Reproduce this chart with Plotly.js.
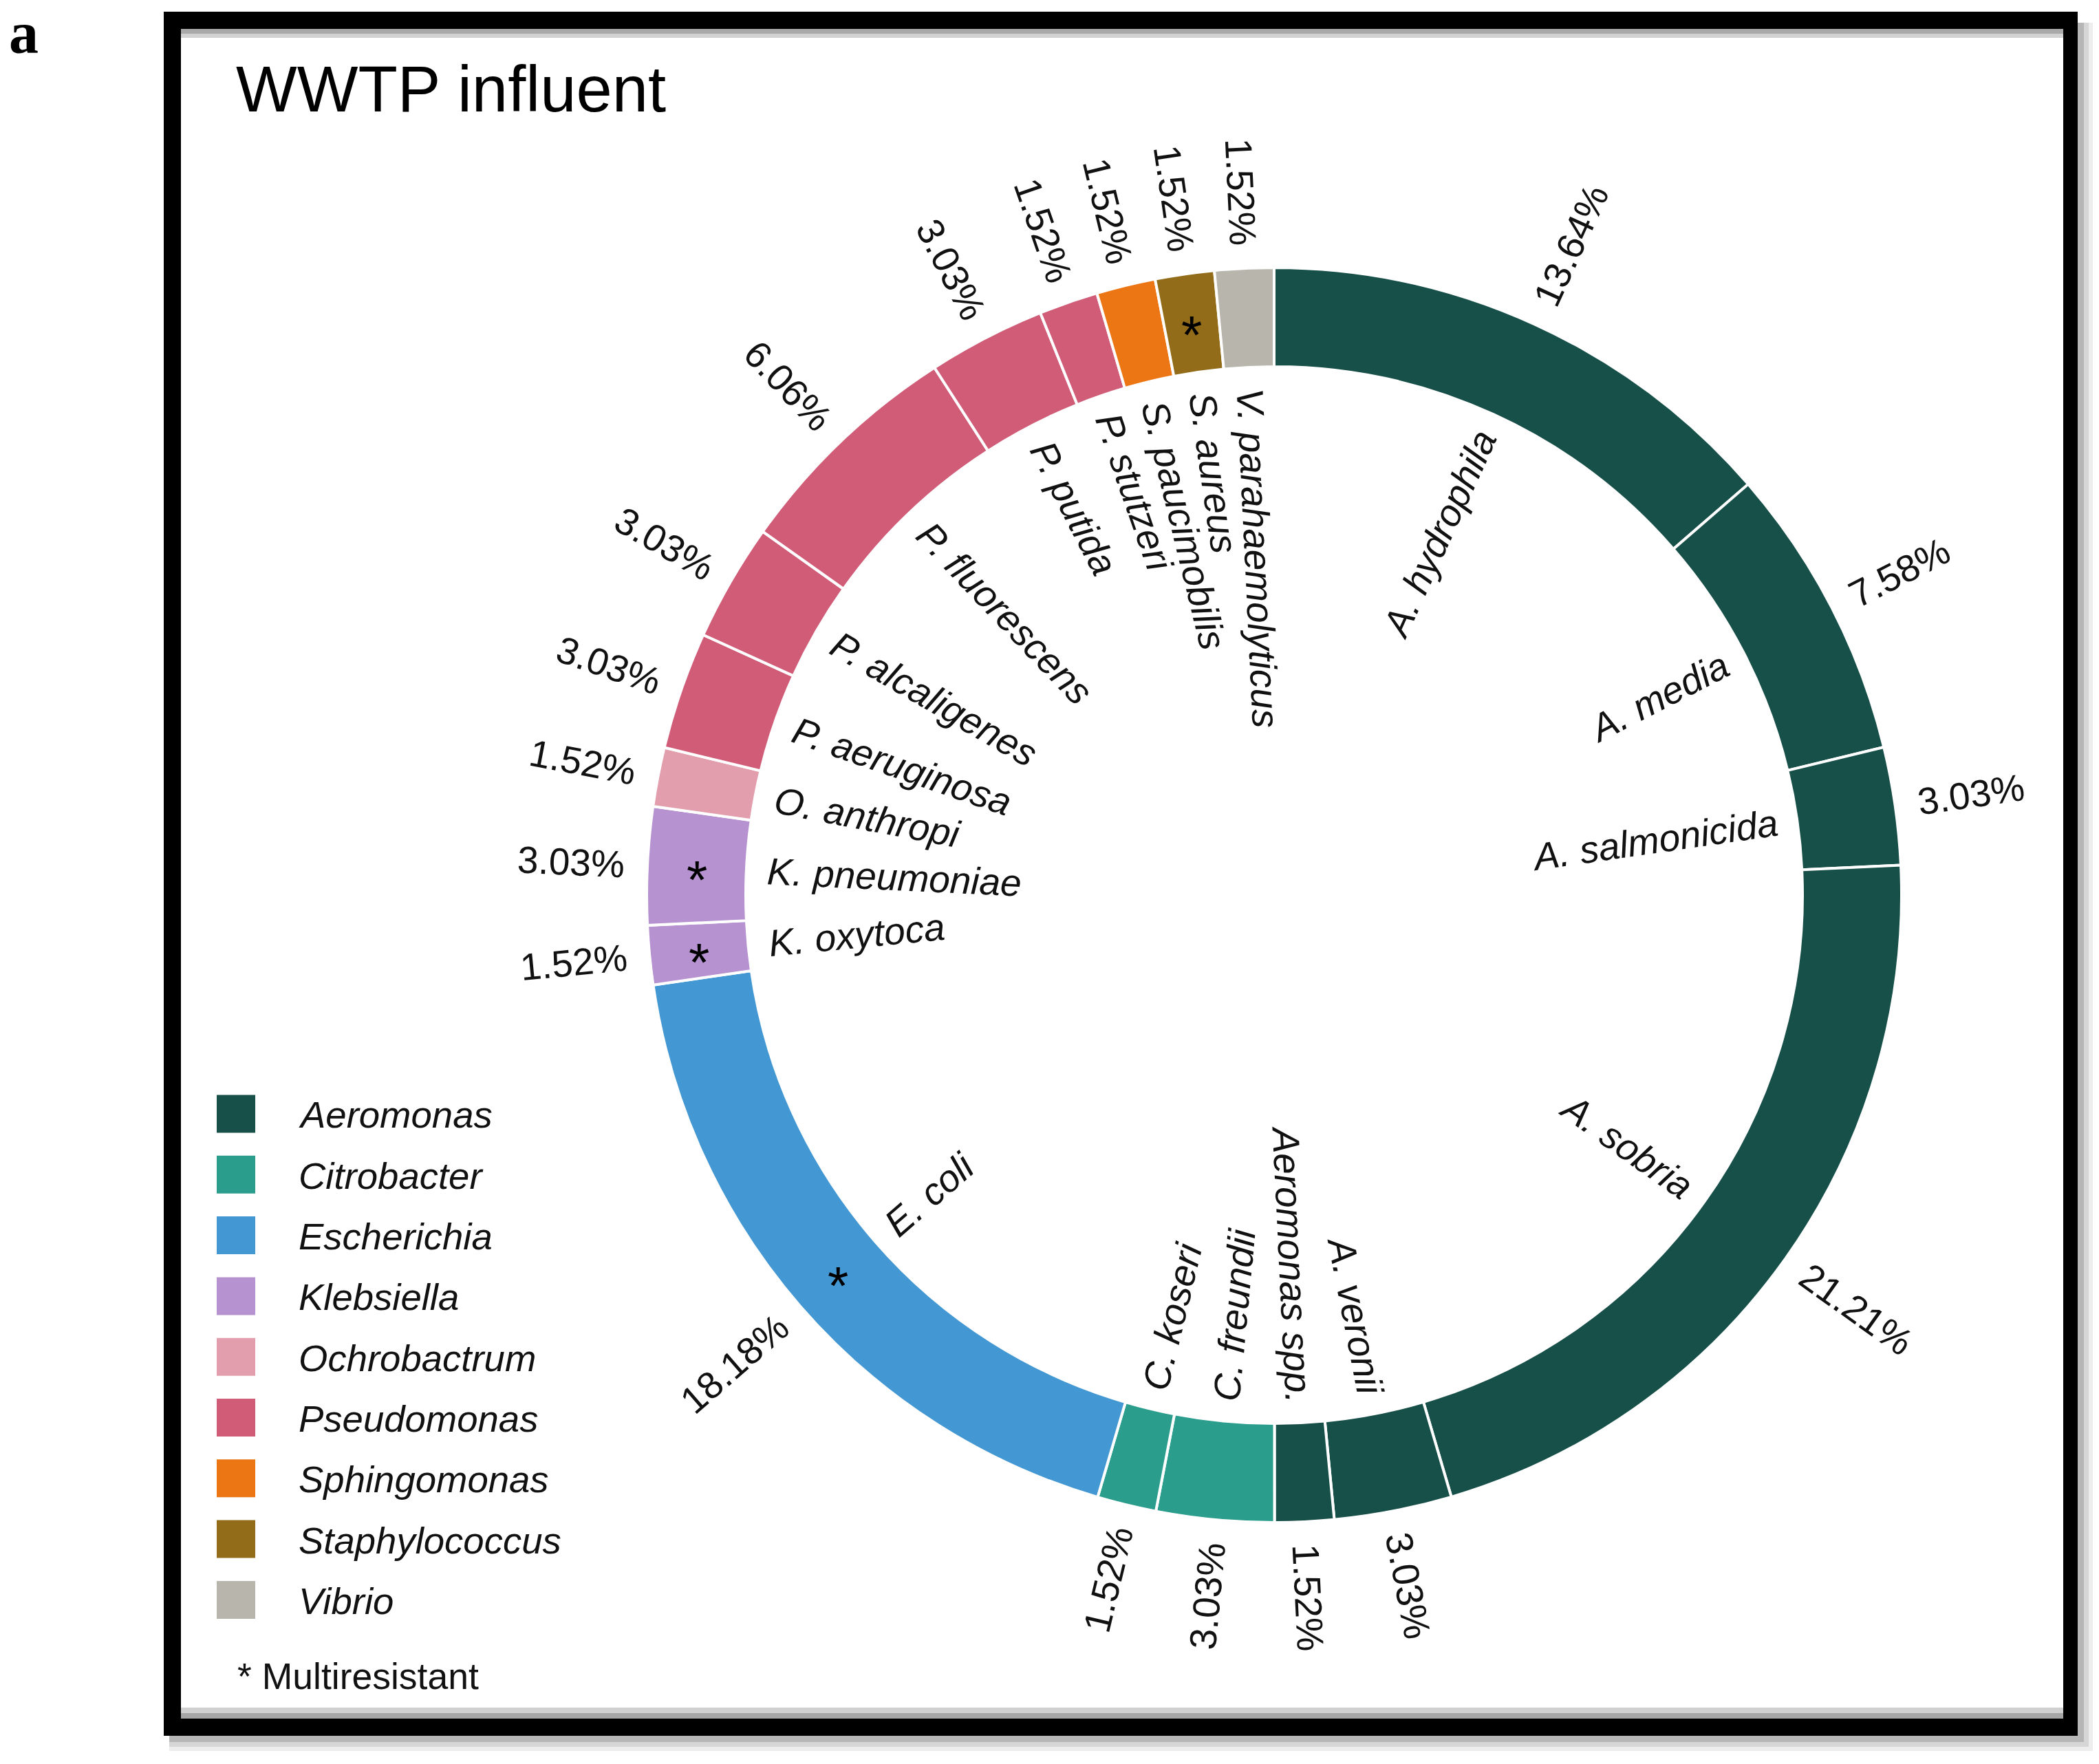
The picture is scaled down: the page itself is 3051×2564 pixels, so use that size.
<!DOCTYPE html>
<html>
<head>
<meta charset="utf-8">
<script src="https://cdn.plot.ly/plotly-3.0.1.min.js"></script>
<style>
html, body { margin: 0; padding: 0; background: #ffffff; }
#chart { width: 3051px; height: 2564px; }
</style>
</head>
<body>
<div id="chart"></div>
<script>
// ---------------- DATA ----------------
const species = ["A. hydrophila", "A. media", "A. salmonicida", "A. sobria", "A. veronii",
  "Aeromonas spp.", "C. freundii", "C. koseri", "E. coli", "K. oxytoca", "K. pneumoniae",
  "O. anthropi", "P. aeruginosa", "P. alcaligenes", "P. fluorescens", "P. putida",
  "P. stutzeri", "S. paucimobilis", "S. aureus", "V. parahaemolyticus"];
const percentages = [13.64, 7.58, 3.03, 21.21, 3.03, 1.52, 3.03, 1.52, 18.18, 1.52, 3.03,
  1.52, 3.03, 3.03, 6.06, 3.03, 1.52, 1.52, 1.52, 1.52];
const speciesGenus = ["Aeromonas", "Aeromonas", "Aeromonas", "Aeromonas", "Aeromonas",
  "Aeromonas", "Citrobacter", "Citrobacter", "Escherichia", "Klebsiella", "Klebsiella",
  "Ochrobactrum", "Pseudomonas", "Pseudomonas", "Pseudomonas", "Pseudomonas",
  "Pseudomonas", "Sphingomonas", "Staphylococcus", "Vibrio"];
const multiresistant = [false, false, false, false, false, false, false, false, true, true, true,
  false, false, false, false, false, false, false, true, false];
const genera = ["Aeromonas", "Citrobacter", "Escherichia", "Klebsiella", "Ochrobactrum",
  "Pseudomonas", "Sphingomonas", "Staphylococcus", "Vibrio"];
const genusColors = ["#174F49", "#2A9D8C", "#4398D3", "#B692D0", "#E29EAC",
  "#D05C78", "#EC7614", "#926C18", "#B8B5AC"];
const chartTitle = "WWTP influent";
const panelLetter = "a";
const footnote = "* Multiresistant";

// ---------------- GEOMETRY ----------------
const W = 3051, H = 2564;
const CX = 1852, CY = 1301, R_OUT = 912, R_IN = 768;
const FONT = "Liberation Sans, Arial, sans-serif";
const LABEL_SIZE = 55;
const px2x = p => p / W;
const py2y = p => 1 - p / H;

const cvs = document.createElement("canvas");
const ctx = cvs.getContext("2d");
function textWidth(t, size, italic) {
  ctx.font = (italic ? "italic " : "") + size + "px 'Liberation Sans'";
  return ctx.measureText(t).width;
}

const colorOf = g => genusColors[genera.indexOf(g)];
const sliceColors = speciesGenus.map(colorOf);

const trace = {
  type: "pie",
  labels: species,
  values: percentages,
  sort: false,
  direction: "clockwise",
  rotation: 0,
  hole: R_IN / R_OUT,
  textinfo: "none",
  hoverinfo: "label+value",
  showlegend: false,
  marker: { colors: sliceColors, line: { color: "#ffffff", width: 4 } },
  domain: { x: [px2x(CX - R_OUT), px2x(CX + R_OUT)], y: [py2y(CY + R_OUT), py2y(CY - R_OUT)] }
};

// ---------------- ANNOTATIONS ----------------
const annotations = [];
const total = percentages.reduce((a, b) => a + b, 0);
let cum = 0;
const NAME_GAP = 30, PCT_GAP = 33;
percentages.forEach((v, i) => {
  const theta = (cum + v / 2) / total * 360;
  cum += v;
  const rad = theta * Math.PI / 180;
  const ux = Math.sin(rad), uy = -Math.cos(rad);
  const leftHalf = theta > 180;
  const angle = leftHalf ? theta - 270 : theta - 90;

  // species name inside the ring
  const wn = textWidth(species[i], LABEL_SIZE, true);
  const rn = R_IN - NAME_GAP - wn / 2;
  annotations.push({
    xref: "paper", yref: "paper", x: px2x(CX + rn * ux), y: py2y(CY + rn * uy),
    xanchor: "center", yanchor: "middle", showarrow: false, textangle: angle,
    text: species[i], font: { family: FONT, size: LABEL_SIZE, color: "#111111", style: "italic" }
  });

  // percentage outside the ring
  const pct = v.toFixed(2) + "%";
  const wp = textWidth(pct, LABEL_SIZE, false);
  const rp = R_OUT + PCT_GAP + wp / 2;
  annotations.push({
    xref: "paper", yref: "paper", x: px2x(CX + rp * ux), y: py2y(CY + rp * uy),
    xanchor: "center", yanchor: "middle", showarrow: false, textangle: angle,
    text: pct, font: { family: FONT, size: LABEL_SIZE, color: "#111111" }
  });

  // multiresistant asterisk
  if (multiresistant[i]) {
    const rm = (R_IN + R_OUT) / 2;
    const AST = 78;
    annotations.push({
      xref: "paper", yref: "paper", x: px2x(CX + rm * ux), y: py2y(CY + rm * uy + 0.22 * AST),
      xanchor: "center", yanchor: "middle", showarrow: false,
      text: "*", font: { family: FONT, size: AST, color: "#000000" }
    });
  }
});

// legend (manual, genus level)
const shapes = [];
const LEG_X0 = 315, LEG_X1 = 371, LEG_Y0 = 1619, LEG_DY = 88.3, SQ = 55;
genera.forEach((g, k) => {
  const cy = LEG_Y0 + k * LEG_DY;
  shapes.push({
    type: "rect", xref: "paper", yref: "paper", layer: "above",
    x0: px2x(LEG_X0), x1: px2x(LEG_X1), y0: py2y(cy + SQ / 2), y1: py2y(cy - SQ / 2),
    fillcolor: genusColors[k], line: { width: 0 }
  });
  annotations.push({
    xref: "paper", yref: "paper", x: px2x(432), y: py2y(cy + 2),
    xanchor: "left", yanchor: "middle", showarrow: false,
    text: g, font: { family: FONT, size: 54.5, color: "#111111", style: "italic" }
  });
});

annotations.push({
  xref: "paper", yref: "paper", x: px2x(343), y: py2y(2436),
  xanchor: "left", yanchor: "middle", showarrow: false,
  text: footnote, font: { family: FONT, size: 53.5, color: "#111111" }
});

annotations.push({
  xref: "paper", yref: "paper", x: px2x(34), y: py2y(48),
  xanchor: "center", yanchor: "middle", showarrow: false,
  text: "<b>" + panelLetter + "</b>", font: { family: "Liberation Serif, Times New Roman, serif", size: 86, color: "#000000" }
});

// ---------------- FRAME ----------------
function rectPx(x0, y0, x1, y1, fill) {
  return { type: "rect", xref: "paper", yref: "paper", layer: "below",
    x0: px2x(x0), x1: px2x(x1), y0: py2y(y1), y1: py2y(y0),
    fillcolor: fill, line: { width: 0 } };
}
const frame = [
  rectPx(246, 33, 3042, 2545, "#ededed"),
  rectPx(246, 33, 3036, 2539, "#d6d6d6"),
  rectPx(246, 33, 3029, 2532, "#b6b6b6"),
  rectPx(238, 17, 3020, 2523, "#000000"),
  rectPx(263, 42, 2999, 2498, "#ffffff"),
  rectPx(263, 42, 2999, 49, "#a9a9a9"),
  rectPx(263, 49, 2999, 55, "#d2d2d2"),
  rectPx(263, 2482, 2999, 2490, "#d0d0d0"),
  rectPx(263, 2490, 2999, 2498, "#a6a6a6")
];

const layout = {
  width: W, height: H,
  margin: { l: 0, r: 0, t: 0, b: 0, pad: 0 },
  paper_bgcolor: "#ffffff",
  showlegend: false,
  title: {
    text: chartTitle, xref: "container", yref: "container",
    x: px2x(343), xanchor: "left", y: py2y(129), yanchor: "middle",
    font: { family: FONT, size: 94, color: "#000000" }
  },
  shapes: frame.concat(shapes),
  annotations: annotations
};

Plotly.newPlot("chart", [trace], layout, { staticPlot: true, displayModeBar: false });
</script>
</body>
</html>
